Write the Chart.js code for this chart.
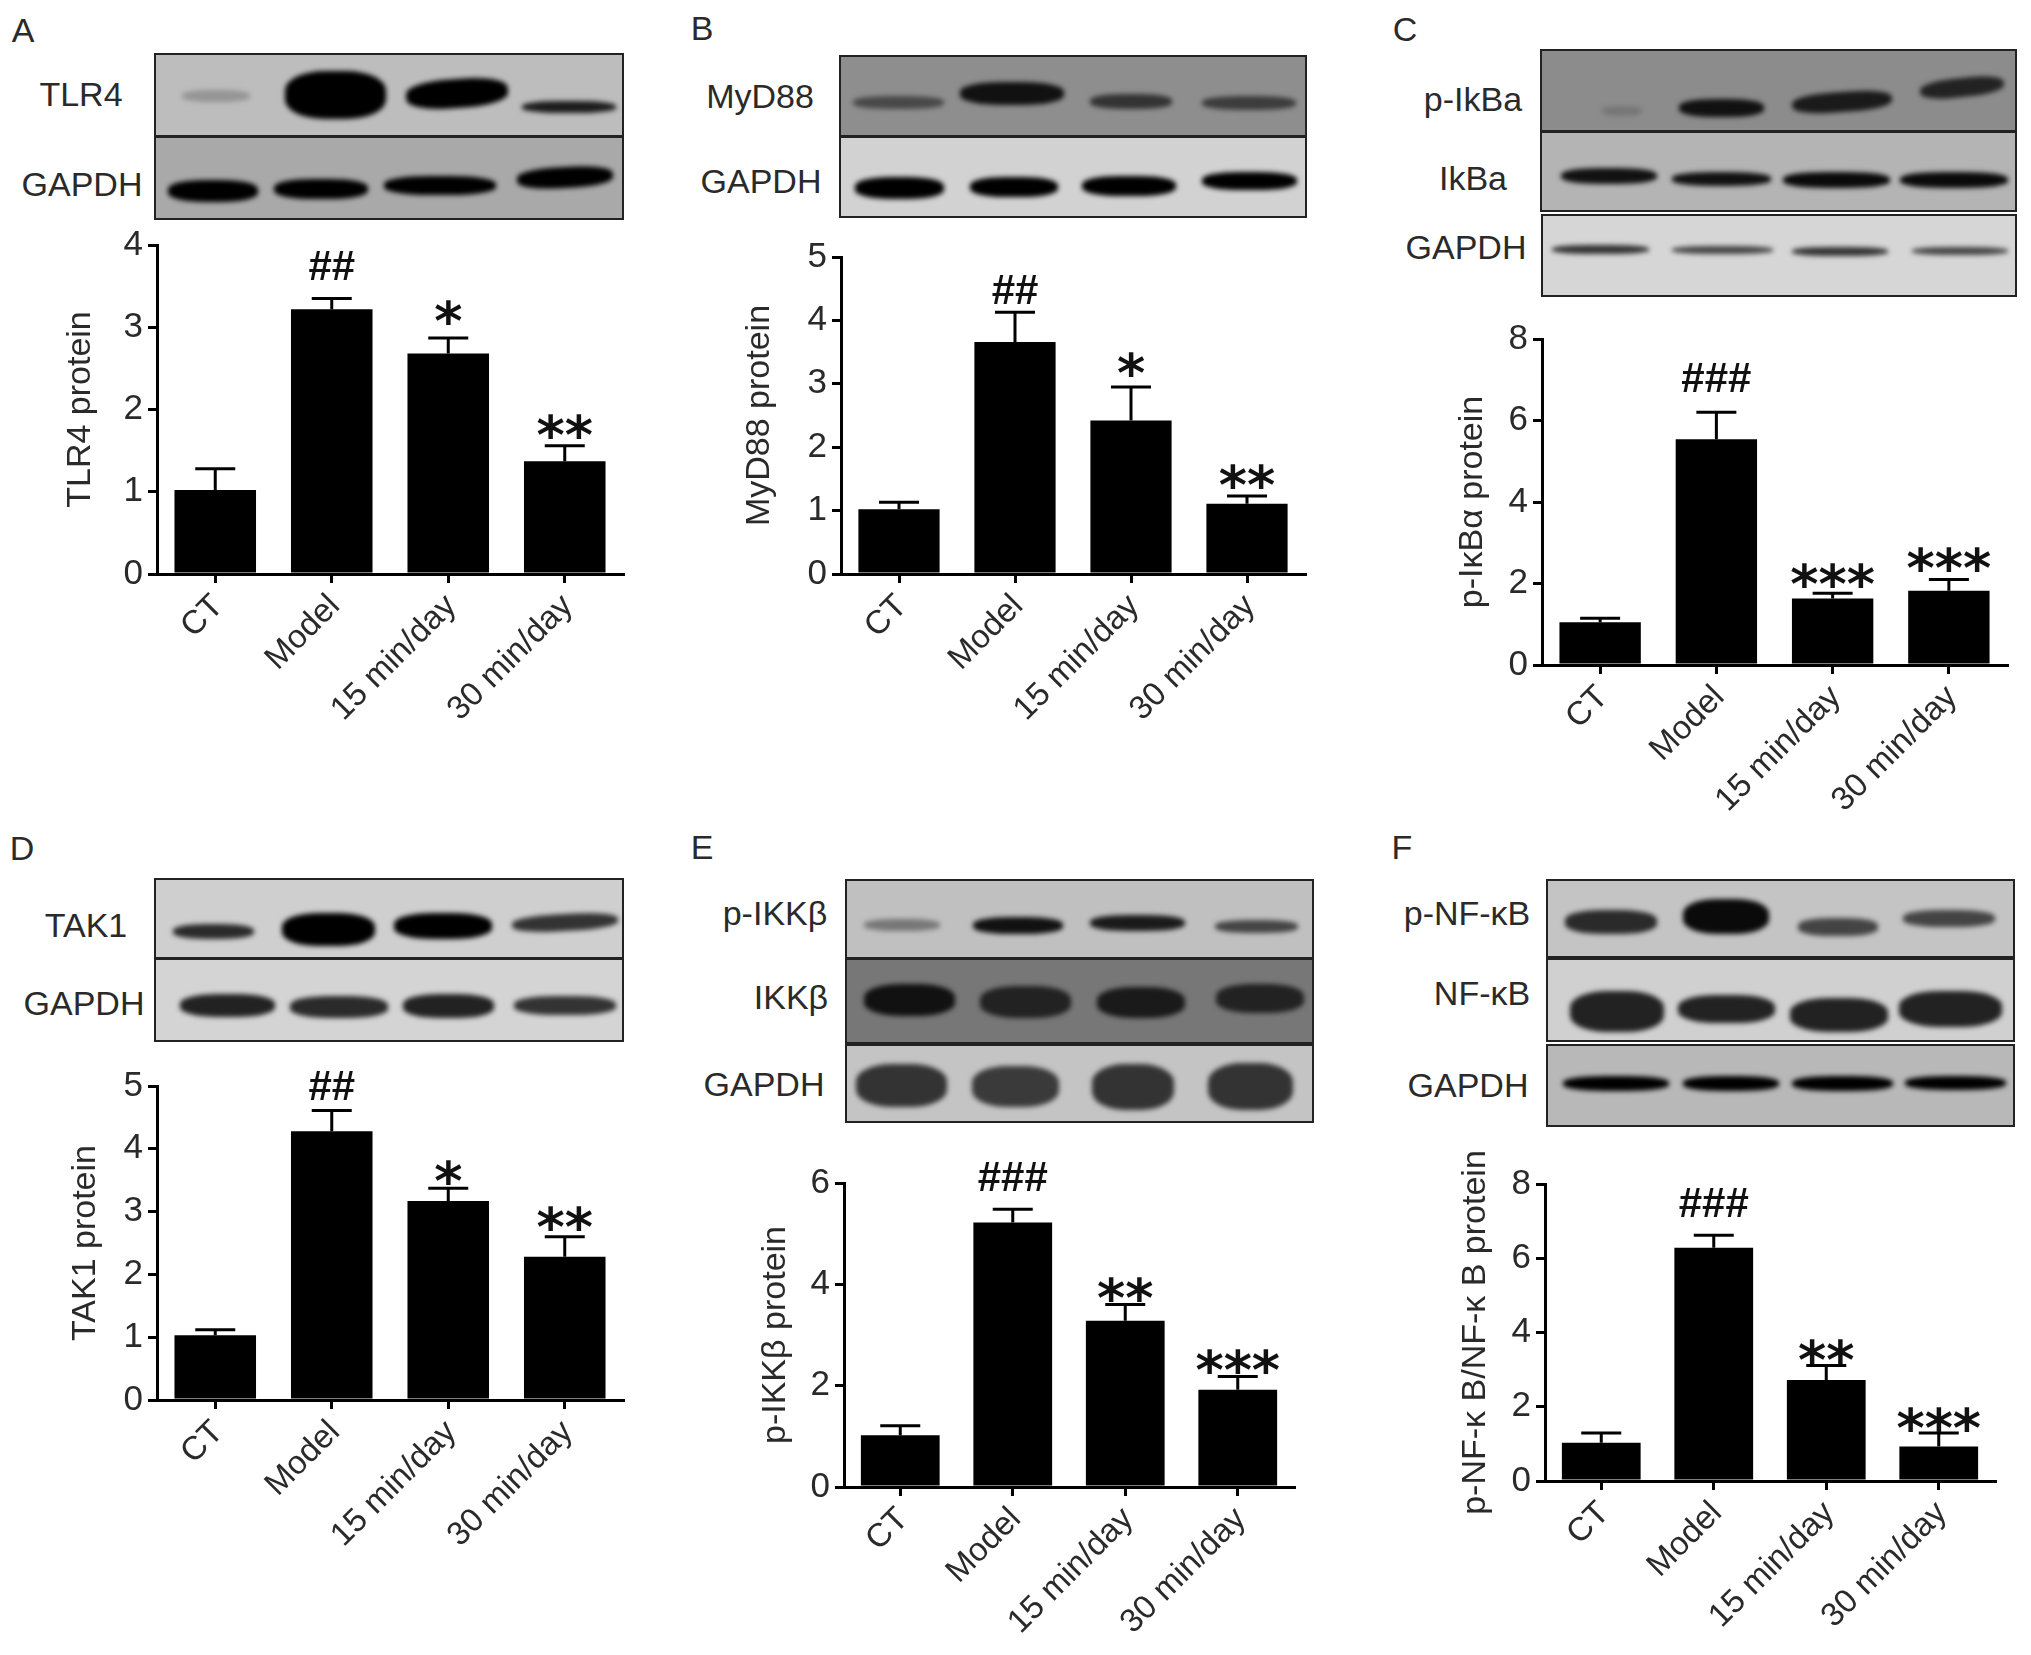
<!DOCTYPE html>
<html>
<head>
<meta charset="utf-8">
<title>Western blots and protein levels</title>
<script src="https://cdn.jsdelivr.net/npm/chart.js@4/dist/chart.umd.min.js"></script>
<style>
  html, body { margin: 0; background: #fff; }
  #page { position: relative; width: 2031px; height: 1655px; overflow: hidden; background: #fff; }
  #page canvas { position: absolute; }
  .strip { position: absolute; box-sizing: border-box; border: 2px solid #222; overflow: hidden; }
  .band { position: absolute; border-radius: 40%; filter: blur(2.5px); }
  .label { position: absolute; transform: translate(-50%, -50%); white-space: nowrap;
           font: 34px "Liberation Sans", Arial, sans-serif; color: #2a2a2a; }
</style>
</head>
<body>
<div id="page"></div>
<script>
// Data
const categories = ["CT", "Model", "15 min/day", "30 min/day"];

const tlr4Values = [1.02, 3.22, 2.68, 1.37];
const tlr4Errors = [1.28, 3.35, 2.87, 1.56];
const tlr4Marks = ["", "##", "*", "**"];
const tlr4MarkLevels = [0, 3.75, 3.18, 1.79];

const myd88Values = [1.02, 3.66, 2.42, 1.11];
const myd88Errors = [1.13, 4.13, 2.95, 1.23];
const myd88Marks = ["", "##", "*", "**"];
const myd88MarkLevels = [0, 4.49, 3.31, 1.54];

const ikbaValues = [1.05, 5.54, 1.63, 1.82];
const ikbaErrors = [1.15, 6.2, 1.76, 2.1];
const ikbaMarks = ["", "###", "***", "***"];
const ikbaMarkLevels = [0, 7.05, 2.2, 2.59];

const tak1Values = [1.03, 4.28, 3.17, 2.28];
const tak1Errors = [1.12, 4.61, 3.37, 2.6];
const tak1Marks = ["", "##", "*", "**"];
const tak1MarkLevels = [0, 5.01, 3.62, 2.89];

const ikkbValues = [1.02, 5.22, 3.28, 1.92];
const ikkbErrors = [1.21, 5.48, 3.6, 2.18];
const ikkbMarks = ["", "###", "**", "***"];
const ikkbMarkLevels = [0, 6.13, 3.89, 2.47];

const nfkbValues = [1.03, 6.28, 2.72, 0.93];
const nfkbErrors = [1.29, 6.62, 3.11, 1.29];
const nfkbMarks = ["", "###", "**", "***"];
const nfkbMarkLevels = [0, 7.5, 3.48, 1.65];

const page = document.getElementById("page");
const fontName = '"Liberation Sans", Arial, sans-serif';
const textColor = "#2a2a2a";

// Error bars and significance marks, placed through the chart's own scales
const errorBarPlugin = {
  id: "errorBars",
  afterDatasetsDraw(chart, args, opts) {
    const ctx = chart.ctx;
    const meta = chart.getDatasetMeta(0);
    const y = chart.scales.y;
    ctx.save();
    ctx.strokeStyle = "#000";
    ctx.lineWidth = 3;
    opts.errors.forEach((err, i) => {
      const x = meta.data[i].x;
      const top = y.getPixelForValue(err);
      ctx.beginPath();
      ctx.moveTo(x, meta.data[i].y);
      ctx.lineTo(x, top);
      ctx.moveTo(x - 20, top);
      ctx.lineTo(x + 20, top);
      ctx.stroke();
    });
    ctx.fillStyle = "#111";
    ctx.textAlign = "center";
    ctx.textBaseline = "alphabetic";
    opts.marks.forEach((mark, i) => {
      if (!mark) return;
      ctx.font = mark[0] === "*" ? 'bold 54px "DejaVu Sans"' : `bold 42px ${fontName}`;
      const m = ctx.measureText(mark);
      const mid = (m.actualBoundingBoxAscent - m.actualBoundingBoxDescent) / 2;
      ctx.fillText(mark, meta.data[i].x, y.getPixelForValue(opts.levels[i]) + mid);
    });
    ctx.restore();
  },
};

function addBarChart(box, title, maxY, stepY, values, errors, marks, levels) {
  const padTop = 60;
  const xHeight = 170;
  const canvas = document.createElement("canvas");
  canvas.width = box.yWidth + box.plotWidth + 10;
  canvas.height = padTop + box.plotHeight + xHeight;
  canvas.style.left = box.axisX - box.yWidth + "px";
  canvas.style.top = box.topY - padTop + "px";
  page.appendChild(canvas);

  new Chart(canvas, {
    type: "bar",
    data: {
      labels: categories,
      datasets: [
        {
          data: values,
          backgroundColor: "#000",
          borderWidth: 0,
          categoryPercentage: 1,
          barPercentage: 0.7,
        },
      ],
    },
    plugins: [errorBarPlugin],
    options: {
      responsive: false,
      animation: false,
      layout: { padding: { top: padTop, right: 10, left: 0, bottom: 0 } },
      plugins: {
        legend: { display: false },
        tooltip: { enabled: false },
        errorBars: { errors: errors, marks: marks, levels: levels },
      },
      scales: {
        x: {
          afterFit: (s) => { s.height = xHeight; },
          grid: { offset: false, drawOnChartArea: false, color: "#000", lineWidth: 3, tickLength: 9 },
          border: { color: "#000", width: 3 },
          ticks: {
            autoSkip: false,
            maxRotation: 45,
            minRotation: 45,
            padding: 4,
            labelOffset: 3,
            color: textColor,
            font: { family: fontName, size: 33 },
          },
        },
        y: {
          min: 0,
          max: maxY,
          afterFit: (s) => { s.width = box.yWidth; },
          grid: { drawOnChartArea: false, color: "#000", lineWidth: 3, tickLength: 9 },
          border: { color: "#000", width: 3 },
          ticks: {
            stepSize: stepY,
            padding: 5,
            color: textColor,
            font: { family: fontName, size: 35 },
          },
          title: {
            display: true,
            text: title,
            padding: 0,
            color: textColor,
            font: { family: fontName, size: 34, lineHeight: 1.2 },
          },
        },
      },
    },
  });
}

// Gel strips are pictures in the original, approximated with blurred bands
function addStrip(left, top, right, bottom, background, bands) {
  const strip = document.createElement("div");
  strip.className = "strip";
  strip.style.cssText = `left:${left}px;top:${top}px;width:${right - left}px;height:${bottom - top}px;background:${background}`;
  bands.forEach(([x0, x1, y0, y1, color, tilt]) => {
    const band = document.createElement("div");
    band.className = "band";
    band.style.cssText = `left:${x0 - left}px;top:${y0 - top}px;width:${x1 - x0}px;height:${y1 - y0}px;background:${color};transform:rotate(${tilt || 0}deg)`;
    strip.appendChild(band);
  });
  page.appendChild(strip);
}

function addLabel(text, x, y) {
  const label = document.createElement("div");
  label.className = "label";
  label.textContent = text;
  label.style.left = x + "px";
  label.style.top = y + "px";
  page.appendChild(label);
}

// A
addStrip(154, 53, 624, 137, "#bdbdbd", [
  [180, 248, 88, 100, "#959595"],
  [283, 384, 69, 117, "#000"],
  [404, 506, 77, 106, "#000", -4],
  [520, 614, 99, 111, "#1c1c1c"],
]);
addStrip(154, 136, 624, 220, "#a9a9a9", [
  [166, 256, 178, 200, "#000"],
  [272, 366, 177, 197, "#000"],
  [382, 494, 174, 193, "#000"],
  [515, 611, 165, 186, "#000", -3],
]);
addLabel("A", 23, 30);
addLabel("TLR4", 81, 94);
addLabel("GAPDH", 82, 184);
addBarChart({ axisX: 157, topY: 245, plotWidth: 466, plotHeight: 329, yWidth: 97 },
  "TLR4 protein", 4, 1, tlr4Values, tlr4Errors, tlr4Marks, tlr4MarkLevels);

// B
addStrip(839, 55, 1307, 137, "#8e8e8e", [
  [851, 942, 94, 107, "#484848"],
  [958, 1062, 80, 103, "#111"],
  [1088, 1170, 92, 107, "#333"],
  [1200, 1294, 94, 108, "#3c3c3c"],
]);
addStrip(839, 136, 1307, 218, "#d2d2d2", [
  [853, 942, 175, 197, "#000"],
  [968, 1056, 175, 195, "#000"],
  [1080, 1174, 174, 194, "#000"],
  [1200, 1295, 170, 188, "#000"],
]);
addLabel("B", 702, 28);
addLabel("MyD88", 760, 96);
addLabel("GAPDH", 761, 181);
addBarChart({ axisX: 841, topY: 257, plotWidth: 464, plotHeight: 317, yWidth: 102 },
  "MyD88 protein", 5, 1, myd88Values, myd88Errors, myd88Marks, myd88MarkLevels);

// C
addStrip(1540, 49, 2017, 132, "#8c8c8c", [
  [1600, 1640, 104, 114, "#767676"],
  [1677, 1762, 97, 115, "#111"],
  [1790, 1890, 90, 110, "#1a1a1a", -4],
  [1918, 2002, 76, 95, "#222", -6],
]);
addStrip(1540, 131, 2017, 212, "#b4b4b4", [
  [1559, 1655, 166, 182, "#111"],
  [1670, 1769, 170, 184, "#111"],
  [1781, 1888, 170, 186, "#0a0a0a"],
  [1898, 2006, 170, 186, "#0a0a0a"],
]);
addStrip(1541, 214, 2017, 297, "#d6d6d6", [
  [1550, 1647, 243, 252, "#333"],
  [1670, 1771, 244, 252, "#444"],
  [1790, 1886, 245, 254, "#333"],
  [1910, 2006, 245, 253, "#444"],
]);
addLabel("C", 1405, 29);
addLabel("p-IkBa", 1473, 99);
addLabel("IkBa", 1473, 178);
addLabel("GAPDH", 1466, 247);
addBarChart({ axisX: 1542, topY: 339, plotWidth: 465, plotHeight: 326, yWidth: 90 },
  "p-IκBα protein", 8, 2, ikbaValues, ikbaErrors, ikbaMarks, ikbaMarkLevels);

// D
addStrip(154, 878, 624, 959, "#cfcfcf", [
  [171, 252, 922, 937, "#2a2a2a"],
  [280, 373, 911, 944, "#000"],
  [392, 490, 911, 937, "#000"],
  [510, 616, 912, 929, "#333", -3],
]);
addStrip(154, 958, 624, 1042, "#d4d4d4", [
  [178, 273, 992, 1015, "#222"],
  [288, 386, 994, 1016, "#2a2a2a"],
  [401, 492, 992, 1016, "#222"],
  [512, 614, 994, 1013, "#333"],
]);
addLabel("D", 22, 848);
addLabel("TAK1", 86, 925);
addLabel("GAPDH", 84, 1003);
addBarChart({ axisX: 157, topY: 1086, plotWidth: 466, plotHeight: 314, yWidth: 92 },
  "TAK1 protein", 5, 1, tak1Values, tak1Errors, tak1Marks, tak1MarkLevels);

// E
addStrip(845, 879, 1314, 959, "#c0c0c0", [
  [862, 938, 917, 929, "#777"],
  [971, 1061, 915, 932, "#111"],
  [1088, 1183, 913, 929, "#1a1a1a"],
  [1213, 1296, 918, 931, "#444"],
]);
addStrip(845, 958, 1314, 1044, "#777", [
  [862, 953, 982, 1014, "#111"],
  [978, 1069, 984, 1016, "#222"],
  [1095, 1183, 985, 1016, "#1a1a1a"],
  [1214, 1302, 982, 1011, "#222"],
]);
addStrip(845, 1044, 1314, 1123, "#c4c4c4", [
  [854, 945, 1062, 1105, "#333"],
  [970, 1057, 1064, 1105, "#3a3a3a"],
  [1090, 1172, 1062, 1108, "#333"],
  [1206, 1291, 1061, 1108, "#333"],
]);
addLabel("E", 702, 847);
addLabel("p-IKKβ", 775, 913);
addLabel("IKKβ", 791, 997);
addLabel("GAPDH", 764, 1084);
addBarChart({ axisX: 844, topY: 1183, plotWidth: 450, plotHeight: 304, yWidth: 89 },
  "p-IKKβ protein", 6, 2, ikkbValues, ikkbErrors, ikkbMarks, ikkbMarkLevels);

// F
addStrip(1546, 879, 2015, 958, "#c4c4c4", [
  [1563, 1655, 908, 932, "#2a2a2a"],
  [1681, 1767, 897, 932, "#0a0a0a"],
  [1796, 1876, 916, 934, "#444"],
  [1901, 1993, 908, 925, "#444"],
]);
addStrip(1546, 958, 2015, 1042, "#d0d0d0", [
  [1568, 1662, 989, 1030, "#222"],
  [1676, 1773, 993, 1021, "#222"],
  [1788, 1886, 996, 1030, "#222"],
  [1897, 2000, 989, 1025, "#222"],
]);
addStrip(1546, 1044, 2015, 1127, "#b8b8b8", [
  [1561, 1667, 1074, 1089, "#000"],
  [1681, 1777, 1074, 1089, "#000"],
  [1790, 1891, 1074, 1089, "#000"],
  [1903, 2004, 1074, 1088, "#000"],
]);
addLabel("F", 1402, 847);
addLabel("p-NF-κB", 1467, 913);
addLabel("NF-κB", 1482, 993);
addLabel("GAPDH", 1468, 1085);
addBarChart({ axisX: 1545, topY: 1184, plotWidth: 450, plotHeight: 297, yWidth: 90 },
  "p-NF-κ B/NF-κ B protein", 8, 2, nfkbValues, nfkbErrors, nfkbMarks, nfkbMarkLevels);
</script>
</body>
</html>
